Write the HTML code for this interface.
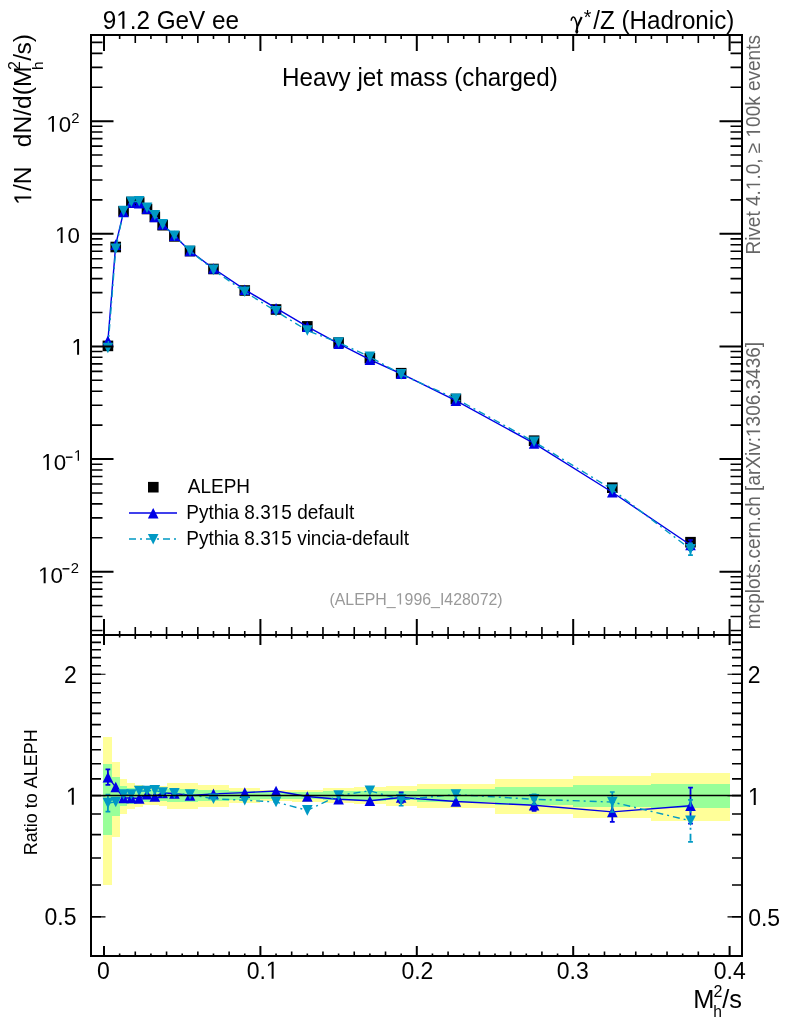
<!DOCTYPE html><html><head><meta charset="utf-8"><style>html,body{margin:0;padding:0;background:#fff;overflow:hidden;}svg{display:block;will-change:transform}text{font-family:"Liberation Sans",sans-serif;font-kerning:none;white-space:pre}</style></head><body>
<svg width="786" height="1024" viewBox="0 0 786 1024">
<rect width="786" height="1024" fill="#fff"/>
<g shape-rendering="crispEdges">
<rect x="103" y="737" width="9" height="148" fill="#ffff99"/>
<rect x="112" y="762" width="8" height="75" fill="#ffff99"/>
<rect x="120" y="779" width="7" height="35" fill="#ffff99"/>
<rect x="127" y="783" width="8" height="26" fill="#ffff99"/>
<rect x="135" y="785" width="8" height="22" fill="#ffff99"/>
<rect x="143" y="787" width="8" height="18" fill="#ffff99"/>
<rect x="151" y="787" width="8" height="18" fill="#ffff99"/>
<rect x="159" y="786" width="8" height="20" fill="#ffff99"/>
<rect x="167" y="783" width="15" height="26" fill="#ffff99"/>
<rect x="182" y="783" width="16" height="26" fill="#ffff99"/>
<rect x="198" y="785" width="31" height="22" fill="#ffff99"/>
<rect x="229" y="788" width="31" height="15" fill="#ffff99"/>
<rect x="260" y="790" width="32" height="11" fill="#ffff99"/>
<rect x="292" y="790" width="31" height="12" fill="#ffff99"/>
<rect x="323" y="788" width="31" height="15" fill="#ffff99"/>
<rect x="354" y="787" width="32" height="17" fill="#ffff99"/>
<rect x="386" y="786" width="31" height="20" fill="#ffff99"/>
<rect x="417" y="784" width="78" height="24" fill="#ffff99"/>
<rect x="495" y="779" width="78" height="35" fill="#ffff99"/>
<rect x="573" y="776" width="78" height="42" fill="#ffff99"/>
<rect x="651" y="773" width="79" height="48" fill="#ffff99"/>
<rect x="103" y="764" width="9" height="71" fill="#99ff99"/>
<rect x="112" y="777" width="8" height="39" fill="#99ff99"/>
<rect x="120" y="786" width="7" height="20" fill="#99ff99"/>
<rect x="127" y="788" width="8" height="16" fill="#99ff99"/>
<rect x="135" y="789" width="8" height="14" fill="#99ff99"/>
<rect x="143" y="790" width="8" height="12" fill="#99ff99"/>
<rect x="151" y="790" width="8" height="11" fill="#99ff99"/>
<rect x="159" y="790" width="8" height="11" fill="#99ff99"/>
<rect x="167" y="789" width="15" height="13" fill="#99ff99"/>
<rect x="182" y="789" width="16" height="13" fill="#99ff99"/>
<rect x="198" y="790" width="31" height="11" fill="#99ff99"/>
<rect x="229" y="791" width="31" height="9" fill="#99ff99"/>
<rect x="260" y="792" width="32" height="7" fill="#99ff99"/>
<rect x="292" y="792" width="31" height="7" fill="#99ff99"/>
<rect x="323" y="791" width="31" height="9" fill="#99ff99"/>
<rect x="354" y="791" width="32" height="10" fill="#99ff99"/>
<rect x="386" y="791" width="31" height="9" fill="#99ff99"/>
<rect x="417" y="789" width="78" height="13" fill="#99ff99"/>
<rect x="495" y="787" width="78" height="18" fill="#99ff99"/>
<rect x="573" y="785" width="78" height="22" fill="#99ff99"/>
<rect x="651" y="784" width="79" height="24" fill="#99ff99"/>
</g>
<rect x="102.61" y="340.60" width="10.6" height="10.6" fill="#000"/>
<rect x="110.43" y="241.70" width="10.6" height="10.6" fill="#000"/>
<rect x="118.25" y="206.00" width="10.6" height="10.6" fill="#000"/>
<rect x="126.07" y="196.70" width="10.6" height="10.6" fill="#000"/>
<rect x="133.89" y="197.20" width="10.6" height="10.6" fill="#000"/>
<rect x="141.71" y="203.70" width="10.6" height="10.6" fill="#000"/>
<rect x="149.53" y="211.50" width="10.6" height="10.6" fill="#000"/>
<rect x="157.35" y="219.90" width="10.6" height="10.6" fill="#000"/>
<rect x="169.08" y="231.10" width="10.6" height="10.6" fill="#000"/>
<rect x="184.72" y="245.80" width="10.6" height="10.6" fill="#000"/>
<rect x="208.18" y="263.70" width="10.6" height="10.6" fill="#000"/>
<rect x="239.46" y="285.20" width="10.6" height="10.6" fill="#000"/>
<rect x="270.74" y="304.20" width="10.6" height="10.6" fill="#000"/>
<rect x="302.02" y="321.10" width="10.6" height="10.6" fill="#000"/>
<rect x="333.30" y="337.30" width="10.6" height="10.6" fill="#000"/>
<rect x="364.58" y="352.90" width="10.6" height="10.6" fill="#000"/>
<rect x="395.86" y="367.90" width="10.6" height="10.6" fill="#000"/>
<rect x="450.60" y="393.70" width="10.6" height="10.6" fill="#000"/>
<rect x="528.80" y="435.40" width="10.6" height="10.6" fill="#000"/>
<rect x="607.00" y="482.40" width="10.6" height="10.6" fill="#000"/>
<rect x="685.20" y="536.90" width="10.6" height="10.6" fill="#000"/>
<polyline fill="none" stroke="#0000e6" stroke-width="1.4" points="107.91,340.75 115.73,244.61 123.55,211.99 131.37,202.69 139.19,203.29 147.01,208.61 154.83,217.05 162.65,224.47 174.38,235.77 190.02,251.05 213.48,268.51 244.76,289.68 276.04,308.20 307.32,326.65 338.60,343.64 369.88,359.64 401.16,373.74 455.90,400.64 534.10,443.42 612.30,492.26 690.50,545.02"/>
<path d="M107.91,335.45 L113.21,346.05 L102.61,346.05Z" fill="#0000e6"/>
<path d="M115.73,239.31 L121.03,249.91 L110.43,249.91Z" fill="#0000e6"/>
<path d="M123.55,206.69 L128.85,217.29 L118.25,217.29Z" fill="#0000e6"/>
<path d="M131.37,197.39 L136.67,207.99 L126.07,207.99Z" fill="#0000e6"/>
<path d="M139.19,197.99 L144.49,208.59 L133.89,208.59Z" fill="#0000e6"/>
<path d="M147.01,203.31 L152.31,213.91 L141.71,213.91Z" fill="#0000e6"/>
<path d="M154.83,211.75 L160.13,222.35 L149.53,222.35Z" fill="#0000e6"/>
<path d="M162.65,219.17 L167.95,229.77 L157.35,229.77Z" fill="#0000e6"/>
<path d="M174.38,230.47 L179.68,241.07 L169.08,241.07Z" fill="#0000e6"/>
<path d="M190.02,245.75 L195.32,256.35 L184.72,256.35Z" fill="#0000e6"/>
<path d="M213.48,263.21 L218.78,273.81 L208.18,273.81Z" fill="#0000e6"/>
<path d="M244.76,284.38 L250.06,294.98 L239.46,294.98Z" fill="#0000e6"/>
<path d="M276.04,302.90 L281.34,313.50 L270.74,313.50Z" fill="#0000e6"/>
<path d="M307.32,321.35 L312.62,331.95 L302.02,331.95Z" fill="#0000e6"/>
<path d="M338.60,338.34 L343.90,348.94 L333.30,348.94Z" fill="#0000e6"/>
<path d="M369.88,354.34 L375.18,364.94 L364.58,364.94Z" fill="#0000e6"/>
<path d="M401.16,368.44 L406.46,379.04 L395.86,379.04Z" fill="#0000e6"/>
<path d="M455.90,395.34 L461.20,405.94 L450.60,405.94Z" fill="#0000e6"/>
<path d="M534.10,438.12 L539.40,448.72 L528.80,448.72Z" fill="#0000e6"/>
<path d="M612.30,486.96 L617.60,497.56 L607.00,497.56Z" fill="#0000e6"/>
<path d="M690.50,540.02V550.02" stroke="#0000e6" stroke-width="1.8" fill="none"/><path d="M688.10,540.02h4.8M688.10,550.02h4.8" stroke="#0000e6" stroke-width="1.7" fill="none"/>
<path d="M690.50,539.72 L695.80,550.32 L685.20,550.32Z" fill="#0000e6"/>
<polyline fill="none" stroke="#0099c4" stroke-width="1.4" stroke-dasharray="7,4,2,4" points="107.91,348.00 115.73,248.79 123.55,211.01 131.37,201.71 139.19,201.20 147.01,207.70 154.83,215.31 162.65,224.33 174.38,235.77 190.02,250.81 213.48,269.89 244.76,291.79 276.04,311.29 307.32,330.53 338.60,342.55 369.88,356.85 401.16,374.34 455.90,398.71 534.10,441.74 612.30,489.49 690.50,549.24"/>
<path d="M102.61,342.70 L113.21,342.70 L107.91,353.30Z" fill="#0099c4"/>
<path d="M110.43,243.49 L121.03,243.49 L115.73,254.09Z" fill="#0099c4"/>
<path d="M118.25,205.71 L128.85,205.71 L123.55,216.31Z" fill="#0099c4"/>
<path d="M126.07,196.41 L136.67,196.41 L131.37,207.01Z" fill="#0099c4"/>
<path d="M133.89,195.90 L144.49,195.90 L139.19,206.50Z" fill="#0099c4"/>
<path d="M141.71,202.40 L152.31,202.40 L147.01,213.00Z" fill="#0099c4"/>
<path d="M149.53,210.01 L160.13,210.01 L154.83,220.61Z" fill="#0099c4"/>
<path d="M157.35,219.03 L167.95,219.03 L162.65,229.63Z" fill="#0099c4"/>
<path d="M169.08,230.47 L179.68,230.47 L174.38,241.07Z" fill="#0099c4"/>
<path d="M184.72,245.51 L195.32,245.51 L190.02,256.11Z" fill="#0099c4"/>
<path d="M208.18,264.59 L218.78,264.59 L213.48,275.19Z" fill="#0099c4"/>
<path d="M239.46,286.49 L250.06,286.49 L244.76,297.09Z" fill="#0099c4"/>
<path d="M270.74,305.99 L281.34,305.99 L276.04,316.59Z" fill="#0099c4"/>
<path d="M302.02,325.23 L312.62,325.23 L307.32,335.83Z" fill="#0099c4"/>
<path d="M333.30,337.25 L343.90,337.25 L338.60,347.85Z" fill="#0099c4"/>
<path d="M364.58,351.55 L375.18,351.55 L369.88,362.15Z" fill="#0099c4"/>
<path d="M395.86,369.04 L406.46,369.04 L401.16,379.64Z" fill="#0099c4"/>
<path d="M450.60,393.41 L461.20,393.41 L455.90,404.01Z" fill="#0099c4"/>
<path d="M528.80,436.44 L539.40,436.44 L534.10,447.04Z" fill="#0099c4"/>
<path d="M607.00,484.19 L617.60,484.19 L612.30,494.79Z" fill="#0099c4"/>
<path d="M690.50,543.34V555.14" stroke="#0099c4" stroke-width="1.8" fill="none"/><path d="M688.10,543.34h4.8M688.10,555.14h4.8" stroke="#0099c4" stroke-width="1.7" fill="none"/>
<path d="M685.20,543.94 L695.80,543.94 L690.50,554.54Z" fill="#0099c4"/>
<polyline fill="none" stroke="#0000e6" stroke-width="1.4" points="107.91,777.18 115.73,787.06 123.55,798.07 131.37,798.07 139.19,798.42 147.01,794.21 154.83,796.48 162.65,792.99 174.38,793.34 190.02,795.43 213.48,793.86 244.76,792.65 276.04,790.94 307.32,796.48 338.60,799.31 369.88,800.75 401.16,797.54 455.90,801.47 534.10,805.32 612.30,811.91 690.50,805.69"/>
<path d="M107.91,769.43V784.93" stroke="#0000e6" stroke-width="1.8" fill="none"/><path d="M105.51,769.43h4.8M105.51,784.93h4.8" stroke="#0000e6" stroke-width="1.7" fill="none"/>
<path d="M107.91,771.88 L113.21,782.48 L102.61,782.48Z" fill="#0000e6"/>
<path d="M115.73,781.76 L121.03,792.36 L110.43,792.36Z" fill="#0000e6"/>
<path d="M123.55,792.77 L128.85,803.37 L118.25,803.37Z" fill="#0000e6"/>
<path d="M131.37,792.77 L136.67,803.37 L126.07,803.37Z" fill="#0000e6"/>
<path d="M139.19,793.12 L144.49,803.72 L133.89,803.72Z" fill="#0000e6"/>
<path d="M147.01,788.91 L152.31,799.51 L141.71,799.51Z" fill="#0000e6"/>
<path d="M154.83,791.18 L160.13,801.78 L149.53,801.78Z" fill="#0000e6"/>
<path d="M162.65,787.69 L167.95,798.29 L157.35,798.29Z" fill="#0000e6"/>
<path d="M174.38,788.04 L179.68,798.64 L169.08,798.64Z" fill="#0000e6"/>
<path d="M190.02,790.13 L195.32,800.73 L184.72,800.73Z" fill="#0000e6"/>
<path d="M213.48,788.56 L218.78,799.16 L208.18,799.16Z" fill="#0000e6"/>
<path d="M244.76,787.35 L250.06,797.95 L239.46,797.95Z" fill="#0000e6"/>
<path d="M276.04,785.64 L281.34,796.24 L270.74,796.24Z" fill="#0000e6"/>
<path d="M307.32,791.18 L312.62,801.78 L302.02,801.78Z" fill="#0000e6"/>
<path d="M338.60,794.01 L343.90,804.61 L333.30,804.61Z" fill="#0000e6"/>
<path d="M369.88,795.45 L375.18,806.05 L364.58,806.05Z" fill="#0000e6"/>
<path d="M401.16,792.24V802.84" stroke="#0000e6" stroke-width="1.8" fill="none"/><path d="M398.76,792.24h4.8M398.76,802.84h4.8" stroke="#0000e6" stroke-width="1.7" fill="none"/>
<path d="M401.16,792.24 L406.46,802.84 L395.86,802.84Z" fill="#0000e6"/>
<path d="M455.90,796.17 L461.20,806.77 L450.60,806.77Z" fill="#0000e6"/>
<path d="M534.10,799.72V810.92" stroke="#0000e6" stroke-width="1.8" fill="none"/><path d="M531.70,799.72h4.8M531.70,810.92h4.8" stroke="#0000e6" stroke-width="1.7" fill="none"/>
<path d="M534.10,800.02 L539.40,810.62 L528.80,810.62Z" fill="#0000e6"/>
<path d="M612.30,801.91V821.91" stroke="#0000e6" stroke-width="1.8" fill="none"/><path d="M609.90,801.91h4.8M609.90,821.91h4.8" stroke="#0000e6" stroke-width="1.7" fill="none"/>
<path d="M612.30,806.61 L617.60,817.21 L607.00,817.21Z" fill="#0000e6"/>
<path d="M690.50,787.69V823.69" stroke="#0000e6" stroke-width="1.8" fill="none"/><path d="M688.10,787.69h4.8M688.10,823.69h4.8" stroke="#0000e6" stroke-width="1.7" fill="none"/>
<path d="M690.50,800.39 L695.80,810.99 L685.20,810.99Z" fill="#0000e6"/>
<polyline fill="none" stroke="#0099c4" stroke-width="1.4" stroke-dasharray="7,4,2,4" points="107.91,803.11 115.73,802.02 123.55,794.55 131.37,794.55 139.19,790.94 147.01,790.94 154.83,790.26 162.65,792.48 174.38,793.34 190.02,794.55 213.48,798.78 244.76,800.21 276.04,802.02 307.32,810.38 338.60,795.43 369.88,790.77 401.16,799.67 455.90,794.55 534.10,799.31 612.30,802.02 690.50,820.78"/>
<path d="M107.91,794.51V811.71" stroke="#0099c4" stroke-width="1.8" fill="none"/><path d="M105.51,794.51h4.8M105.51,811.71h4.8" stroke="#0099c4" stroke-width="1.7" fill="none"/>
<path d="M102.61,797.81 L113.21,797.81 L107.91,808.41Z" fill="#0099c4"/>
<path d="M110.43,796.72 L121.03,796.72 L115.73,807.32Z" fill="#0099c4"/>
<path d="M118.25,789.25 L128.85,789.25 L123.55,799.85Z" fill="#0099c4"/>
<path d="M126.07,789.25 L136.67,789.25 L131.37,799.85Z" fill="#0099c4"/>
<path d="M133.89,785.64 L144.49,785.64 L139.19,796.24Z" fill="#0099c4"/>
<path d="M141.71,785.64 L152.31,785.64 L147.01,796.24Z" fill="#0099c4"/>
<path d="M149.53,784.96 L160.13,784.96 L154.83,795.56Z" fill="#0099c4"/>
<path d="M157.35,787.18 L167.95,787.18 L162.65,797.78Z" fill="#0099c4"/>
<path d="M169.08,788.04 L179.68,788.04 L174.38,798.64Z" fill="#0099c4"/>
<path d="M184.72,789.25 L195.32,789.25 L190.02,799.85Z" fill="#0099c4"/>
<path d="M208.18,793.48 L218.78,793.48 L213.48,804.08Z" fill="#0099c4"/>
<path d="M239.46,794.91 L250.06,794.91 L244.76,805.51Z" fill="#0099c4"/>
<path d="M270.74,796.72 L281.34,796.72 L276.04,807.32Z" fill="#0099c4"/>
<path d="M302.02,805.08 L312.62,805.08 L307.32,815.68Z" fill="#0099c4"/>
<path d="M333.30,790.13 L343.90,790.13 L338.60,800.73Z" fill="#0099c4"/>
<path d="M364.58,785.47 L375.18,785.47 L369.88,796.07Z" fill="#0099c4"/>
<path d="M401.16,793.57V805.77" stroke="#0099c4" stroke-width="1.8" fill="none"/><path d="M398.76,793.57h4.8M398.76,805.77h4.8" stroke="#0099c4" stroke-width="1.7" fill="none"/>
<path d="M395.86,794.37 L406.46,794.37 L401.16,804.97Z" fill="#0099c4"/>
<path d="M450.60,789.25 L461.20,789.25 L455.90,799.85Z" fill="#0099c4"/>
<path d="M534.10,794.31V804.31" stroke="#0099c4" stroke-width="1.8" fill="none"/><path d="M531.70,794.31h4.8M531.70,804.31h4.8" stroke="#0099c4" stroke-width="1.7" fill="none"/>
<path d="M528.80,794.01 L539.40,794.01 L534.10,804.61Z" fill="#0099c4"/>
<path d="M612.30,792.02V812.02" stroke="#0099c4" stroke-width="1.8" fill="none"/><path d="M609.90,792.02h4.8M609.90,812.02h4.8" stroke="#0099c4" stroke-width="1.7" fill="none"/>
<path d="M607.00,796.72 L617.60,796.72 L612.30,807.32Z" fill="#0099c4"/>
<path d="M690.50,799.78V841.78" stroke="#0099c4" stroke-width="1.8" fill="none" stroke-dasharray="7,4,2,4"/><path d="M688.10,799.78h4.8M688.10,841.78h4.8" stroke="#0099c4" stroke-width="1.7" fill="none"/>
<path d="M685.20,815.48 L695.80,815.48 L690.50,826.08Z" fill="#0099c4"/>
<line x1="91" y1="795.5" x2="742" y2="795.5" stroke="#000" stroke-width="1.3"/>
<path d="M91,35 H742 V956 H91 Z M91,635 H742" fill="none" stroke="#000" stroke-width="2"/>
<path d="M119.64,35v4 M119.64,635v-4 M119.64,635v2.5 M119.64,956v-2.5 M135.28,35v8 M135.28,635v-8 M135.28,635v4 M135.28,956v-4.5 M150.92,35v4 M150.92,635v-4 M150.92,635v2.5 M150.92,956v-2.5 M166.56,35v8 M166.56,635v-8 M166.56,635v4 M166.56,956v-4.5 M182.20,35v4 M182.20,635v-4 M182.20,635v2.5 M182.20,956v-2.5 M197.84,35v8 M197.84,635v-8 M197.84,635v4 M197.84,956v-4.5 M213.48,35v4 M213.48,635v-4 M213.48,635v2.5 M213.48,956v-2.5 M229.12,35v8 M229.12,635v-8 M229.12,635v4 M229.12,956v-4.5 M244.76,35v4 M244.76,635v-4 M244.76,635v2.5 M244.76,956v-2.5 M276.04,35v4 M276.04,635v-4 M276.04,635v2.5 M276.04,956v-2.5 M291.68,35v8 M291.68,635v-8 M291.68,635v4 M291.68,956v-4.5 M307.32,35v4 M307.32,635v-4 M307.32,635v2.5 M307.32,956v-2.5 M322.96,35v8 M322.96,635v-8 M322.96,635v4 M322.96,956v-4.5 M338.60,35v4 M338.60,635v-4 M338.60,635v2.5 M338.60,956v-2.5 M354.24,35v8 M354.24,635v-8 M354.24,635v4 M354.24,956v-4.5 M369.88,35v4 M369.88,635v-4 M369.88,635v2.5 M369.88,956v-2.5 M385.52,35v8 M385.52,635v-8 M385.52,635v4 M385.52,956v-4.5 M401.16,35v4 M401.16,635v-4 M401.16,635v2.5 M401.16,956v-2.5 M432.44,35v4 M432.44,635v-4 M432.44,635v2.5 M432.44,956v-2.5 M448.08,35v8 M448.08,635v-8 M448.08,635v4 M448.08,956v-4.5 M463.72,35v4 M463.72,635v-4 M463.72,635v2.5 M463.72,956v-2.5 M479.36,35v8 M479.36,635v-8 M479.36,635v4 M479.36,956v-4.5 M495.00,35v4 M495.00,635v-4 M495.00,635v2.5 M495.00,956v-2.5 M510.64,35v8 M510.64,635v-8 M510.64,635v4 M510.64,956v-4.5 M526.28,35v4 M526.28,635v-4 M526.28,635v2.5 M526.28,956v-2.5 M541.92,35v8 M541.92,635v-8 M541.92,635v4 M541.92,956v-4.5 M557.56,35v4 M557.56,635v-4 M557.56,635v2.5 M557.56,956v-2.5 M588.84,35v4 M588.84,635v-4 M588.84,635v2.5 M588.84,956v-2.5 M604.48,35v8 M604.48,635v-8 M604.48,635v4 M604.48,956v-4.5 M620.12,35v4 M620.12,635v-4 M620.12,635v2.5 M620.12,956v-2.5 M635.76,35v8 M635.76,635v-8 M635.76,635v4 M635.76,956v-4.5 M651.40,35v4 M651.40,635v-4 M651.40,635v2.5 M651.40,956v-2.5 M667.04,35v8 M667.04,635v-8 M667.04,635v4 M667.04,956v-4.5 M682.68,35v4 M682.68,635v-4 M682.68,635v2.5 M682.68,956v-2.5 M698.32,35v8 M698.32,635v-8 M698.32,635v4 M698.32,956v-4.5 M713.96,35v4 M713.96,635v-4 M713.96,635v2.5 M713.96,956v-2.5 M91,630.55h11.5 M742,630.55h-11.5 M91,616.48h11.5 M742,616.48h-11.5 M91,605.57h11.5 M742,605.57h-11.5 M91,596.65h11.5 M742,596.65h-11.5 M91,589.11h11.5 M742,589.11h-11.5 M91,582.57h11.5 M742,582.57h-11.5 M91,576.81h11.5 M742,576.81h-11.5 M91,537.75h11.5 M742,537.75h-11.5 M91,517.92h11.5 M742,517.92h-11.5 M91,503.85h11.5 M742,503.85h-11.5 M91,492.94h11.5 M742,492.94h-11.5 M91,484.02h11.5 M742,484.02h-11.5 M91,476.48h11.5 M742,476.48h-11.5 M91,469.94h11.5 M742,469.94h-11.5 M91,464.18h11.5 M742,464.18h-11.5 M91,425.12h11.5 M742,425.12h-11.5 M91,405.29h11.5 M742,405.29h-11.5 M91,391.22h11.5 M742,391.22h-11.5 M91,380.31h11.5 M742,380.31h-11.5 M91,371.39h11.5 M742,371.39h-11.5 M91,363.85h11.5 M742,363.85h-11.5 M91,357.31h11.5 M742,357.31h-11.5 M91,351.55h11.5 M742,351.55h-11.5 M91,312.49h11.5 M742,312.49h-11.5 M91,292.66h11.5 M742,292.66h-11.5 M91,278.59h11.5 M742,278.59h-11.5 M91,267.68h11.5 M742,267.68h-11.5 M91,258.76h11.5 M742,258.76h-11.5 M91,251.22h11.5 M742,251.22h-11.5 M91,244.68h11.5 M742,244.68h-11.5 M91,238.92h11.5 M742,238.92h-11.5 M91,199.86h11.5 M742,199.86h-11.5 M91,180.03h11.5 M742,180.03h-11.5 M91,165.96h11.5 M742,165.96h-11.5 M91,155.05h11.5 M742,155.05h-11.5 M91,146.13h11.5 M742,146.13h-11.5 M91,138.59h11.5 M742,138.59h-11.5 M91,132.05h11.5 M742,132.05h-11.5 M91,126.29h11.5 M742,126.29h-11.5 M91,87.23h11.5 M742,87.23h-11.5 M91,67.40h11.5 M742,67.40h-11.5 M91,53.33h11.5 M742,53.33h-11.5 M91,42.42h11.5 M742,42.42h-11.5 M91,916.92h10 M742,916.92h-10 M91,885.01h10 M742,885.01h-10 M91,858.03h10 M742,858.03h-10 M91,834.65h10 M742,834.65h-10 M91,814.04h10 M742,814.04h-10 M91,795.60h10 M742,795.60h-10 M91,778.92h10 M742,778.92h-10 M91,763.69h10 M742,763.69h-10 M91,749.68h10 M742,749.68h-10 M91,736.71h10 M742,736.71h-10 M91,724.64h10 M742,724.64h-10 M91,713.34h10 M742,713.34h-10 M91,702.73h10 M742,702.73h-10 M91,692.73h10 M742,692.73h-10 M91,683.26h10 M742,683.26h-10 M91,674.28h10 M742,674.28h-10 M91,665.75h10 M742,665.75h-10 M91,657.60h10 M742,657.60h-10 M91,649.82h10 M742,649.82h-10 M91,642.37h10 M742,642.37h-10" fill="none" stroke="#000" stroke-width="1.6"/>
<path d="M104.00,35v16 M104.00,635v-16 M104.00,635v10 M104.00,956v-10 M260.40,35v16 M260.40,635v-16 M260.40,635v10 M260.40,956v-10 M416.80,35v16 M416.80,635v-16 M416.80,635v10 M416.80,956v-10 M573.20,35v16 M573.20,635v-16 M573.20,635v10 M573.20,956v-10 M729.60,35v16 M729.60,635v-16 M729.60,635v10 M729.60,956v-10 M91,571.66h22.5 M742,571.66h-22.5 M91,459.03h22.5 M742,459.03h-22.5 M91,346.40h22.5 M742,346.40h-22.5 M91,233.77h22.5 M742,233.77h-22.5 M91,121.14h22.5 M742,121.14h-22.5" fill="none" stroke="#000" stroke-width="2"/>
<path d="M101,916.92h4.5 M732,916.92h-4.5 M101,795.60h4.5 M732,795.60h-4.5 M101,674.28h4.5 M732,674.28h-4.5" fill="none" stroke="#000" stroke-width="1.1"/>
<text transform="translate(102.66,28.70) scale(1,1.04)" font-size="24.3">9</text><path transform="translate(116.18,28.70) scale(0.01187,-0.01234)" d="M515 0V1237L197 1010V1180L530 1409H696V0Z" fill="#000"/><text transform="translate(129.69,28.70) scale(1,1.04)" font-size="24.3">.2 GeV ee</text>
<path d="M571.2,20.8 C571.3,17.6 573.4,15.6 575.0,18.4 C576.0,20.4 576.8,23.5 577.3,26.5" stroke="#000" stroke-width="1.5" fill="none"/>
<path d="M581.7,17.0 L577.3,26.5 L576.9,29.5" stroke="#000" stroke-width="2.1" fill="none"/>
<ellipse cx="576.8" cy="31.3" rx="1.45" ry="2.5" fill="#000"/>
<text x="583.85" y="24.49" font-size="19.5">*</text>
<text transform="translate(593.20,28.90) scale(1,1.04)" font-size="24.2">/Z (Hadronic)</text>
<text transform="translate(282.11,86.00) scale(1,1.04)" font-size="24.22">Heavy jet mass (charged)</text>
<g transform="translate(31.3,0) rotate(-90)">
<path transform="translate(-204.77,0.00) scale(0.01201,-0.01201)" d="M515 0V1237L197 1010V1180L530 1409H696V0Z" fill="#000"/><text x="-191.08" y="0.00" font-size="24.6">/N</text>
<text x="-147.23" y="0.00" font-size="24.6">dN/d(M</text>
<text x="-70.10" y="-10.90" font-size="16">2</text>
<text x="-70.07" y="11.70" font-size="15.4">h</text>
<text x="-60.70" y="0.00" font-size="24.6">/</text>
<text x="-54.48" y="0.00" font-size="24.6">s)</text>
</g>
<g transform="translate(760.1,0) rotate(-90)">
<text transform="translate(-254.56,0.00) scale(1,1.04)" font-size="19.0" fill="#666">Rivet 4.</text><path transform="translate(-190.15,0.00) scale(0.00928,-0.00965)" d="M515 0V1237L197 1010V1180L530 1409H696V0Z" fill="#666"/><text transform="translate(-179.58,0.00) scale(1,1.04)" font-size="19.0" fill="#666">.0, ≥ </text><path transform="translate(-137.47,0.00) scale(0.00928,-0.00965)" d="M515 0V1237L197 1010V1180L530 1409H696V0Z" fill="#666"/><text transform="translate(-126.90,0.00) scale(1,1.04)" font-size="19.0" fill="#666">00k events</text>
<text transform="translate(-629.16,0.00) scale(1,1.04)" font-size="19.0" fill="#666">mcplots.cern.ch [arXiv:</text><path transform="translate(-436.99,0.00) scale(0.00928,-0.00965)" d="M515 0V1237L197 1010V1180L530 1409H696V0Z" fill="#666"/><text transform="translate(-426.42,0.00) scale(1,1.04)" font-size="19.0" fill="#666">306.3436]</text>
</g>
<rect x="148.00" y="481.90" width="10.6" height="10.6" fill="#000"/>
<line x1="129" y1="513" x2="177" y2="513" stroke="#0000e6" stroke-width="1.6"/>
<path d="M153.20,507.90 L158.50,518.50 L147.90,518.50Z" fill="#0000e6"/>
<line x1="129" y1="539" x2="176" y2="539" stroke="#0099c4" stroke-width="1.6" stroke-dasharray="7,4,2,4"/>
<path d="M147.90,533.90 L158.50,533.90 L153.20,544.50Z" fill="#0099c4"/>
<text transform="translate(187.76,492.60) scale(1,1.04)" font-size="19.0">ALEPH</text>
<text transform="translate(186.24,518.80) scale(1,1.04)" font-size="19.0">Pythia 8.3</text><path transform="translate(270.74,518.80) scale(0.00928,-0.00965)" d="M515 0V1237L197 1010V1180L530 1409H696V0Z" fill="#000"/><text transform="translate(281.31,518.80) scale(1,1.04)" font-size="19.0">5 default</text>
<text transform="translate(186.24,544.50) scale(1,1.04)" font-size="19.0">Pythia 8.3</text><path transform="translate(270.74,544.50) scale(0.00928,-0.00965)" d="M515 0V1237L197 1010V1180L530 1409H696V0Z" fill="#000"/><text transform="translate(281.31,544.50) scale(1,1.04)" font-size="19.0">5 vincia-default</text>
<text transform="translate(329.41,604.60) scale(1,1.04)" font-size="15.9" fill="#999">(ALEPH_</text><path transform="translate(395.69,604.60) scale(0.00776,-0.00807)" d="M515 0V1237L197 1010V1180L530 1409H696V0Z" fill="#999"/><text transform="translate(404.54,604.60) scale(1,1.04)" font-size="15.9" fill="#999">996_I428072)</text>
<path transform="translate(46.35,131.70) scale(0.01089,-0.01122)" d="M515 0V1237L197 1010V1180L530 1409H696V0Z" fill="#000"/><text transform="translate(58.76,131.70) scale(1,1.03)" font-size="22.3">0</text>
<text transform="translate(71.26,122.60) scale(1,1.03)" font-size="14.8">2</text>
<path transform="translate(55.05,243.00) scale(0.01089,-0.01122)" d="M515 0V1237L197 1010V1180L530 1409H696V0Z" fill="#000"/><text transform="translate(67.46,243.00) scale(1,1.03)" font-size="22.3">0</text>
<path transform="translate(71.49,354.80) scale(0.01089,-0.01122)" d="M515 0V1237L197 1010V1180L530 1409H696V0Z" fill="#000"/>
<path transform="translate(41.25,469.90) scale(0.01089,-0.01122)" d="M515 0V1237L197 1010V1180L530 1409H696V0Z" fill="#000"/><text transform="translate(53.66,469.90) scale(1,1.03)" font-size="22.3">0</text>
<rect x="65.90" y="456.50" width="6.60" height="1.4" fill="#000"/>
<path transform="translate(73.97,460.70) scale(0.00723,-0.00744)" d="M515 0V1237L197 1010V1180L530 1409H696V0Z" fill="#000"/>
<path transform="translate(38.05,583.20) scale(0.01089,-0.01122)" d="M515 0V1237L197 1010V1180L530 1409H696V0Z" fill="#000"/><text transform="translate(50.46,583.20) scale(1,1.03)" font-size="22.3">0</text>
<rect x="62.50" y="568.10" width="6.90" height="1.4" fill="#000"/>
<text transform="translate(70.66,572.50) scale(1,1.03)" font-size="14.8">2</text>
<text transform="translate(63.95,682.70) scale(1,1.07)" font-size="23">2</text>
<path transform="translate(65.99,804.70) scale(0.01123,-0.01202)" d="M515 0V1237L197 1010V1180L530 1409H696V0Z" fill="#000"/>
<text transform="translate(44.59,925.30) scale(1,1.07)" font-size="23">0.5</text>
<text transform="translate(747.84,682.70) scale(1,1.07)" font-size="23">2</text>
<path transform="translate(747.94,804.90) scale(0.01123,-0.01202)" d="M515 0V1237L197 1010V1180L530 1409H696V0Z" fill="#000"/>
<text transform="translate(748.20,925.50) scale(1,1.07)" font-size="23">0.5</text>
<text transform="translate(97.10,978.70) scale(1,1.07)" font-size="23">0</text>
<text transform="translate(246.65,978.70) scale(1,1.07)" font-size="23">0.</text><path transform="translate(265.83,978.70) scale(0.01123,-0.01202)" d="M515 0V1237L197 1010V1180L530 1409H696V0Z" fill="#000"/>
<text transform="translate(401.44,978.70) scale(1,1.07)" font-size="23">0.2</text>
<text transform="translate(556.77,978.70) scale(1,1.07)" font-size="23">0.3</text>
<text transform="translate(713.80,978.70) scale(1,1.07)" font-size="23">0.4</text>
<text transform="translate(693.22,1007.60) scale(1,1.03)" font-size="25.4">M</text>
<text x="713.40" y="997.30" font-size="16">2</text>
<text x="713.32" y="1016.50" font-size="15.6">h</text>
<text transform="translate(722.20,1007.60) scale(1,1.03)" font-size="25.4">/s</text>
<g transform="translate(36.6,0) rotate(-90)">
<text transform="translate(-855.28,0.00) scale(1,1.06)" font-size="18.0">Ratio to ALEPH</text>
</g>
</svg></body></html>
